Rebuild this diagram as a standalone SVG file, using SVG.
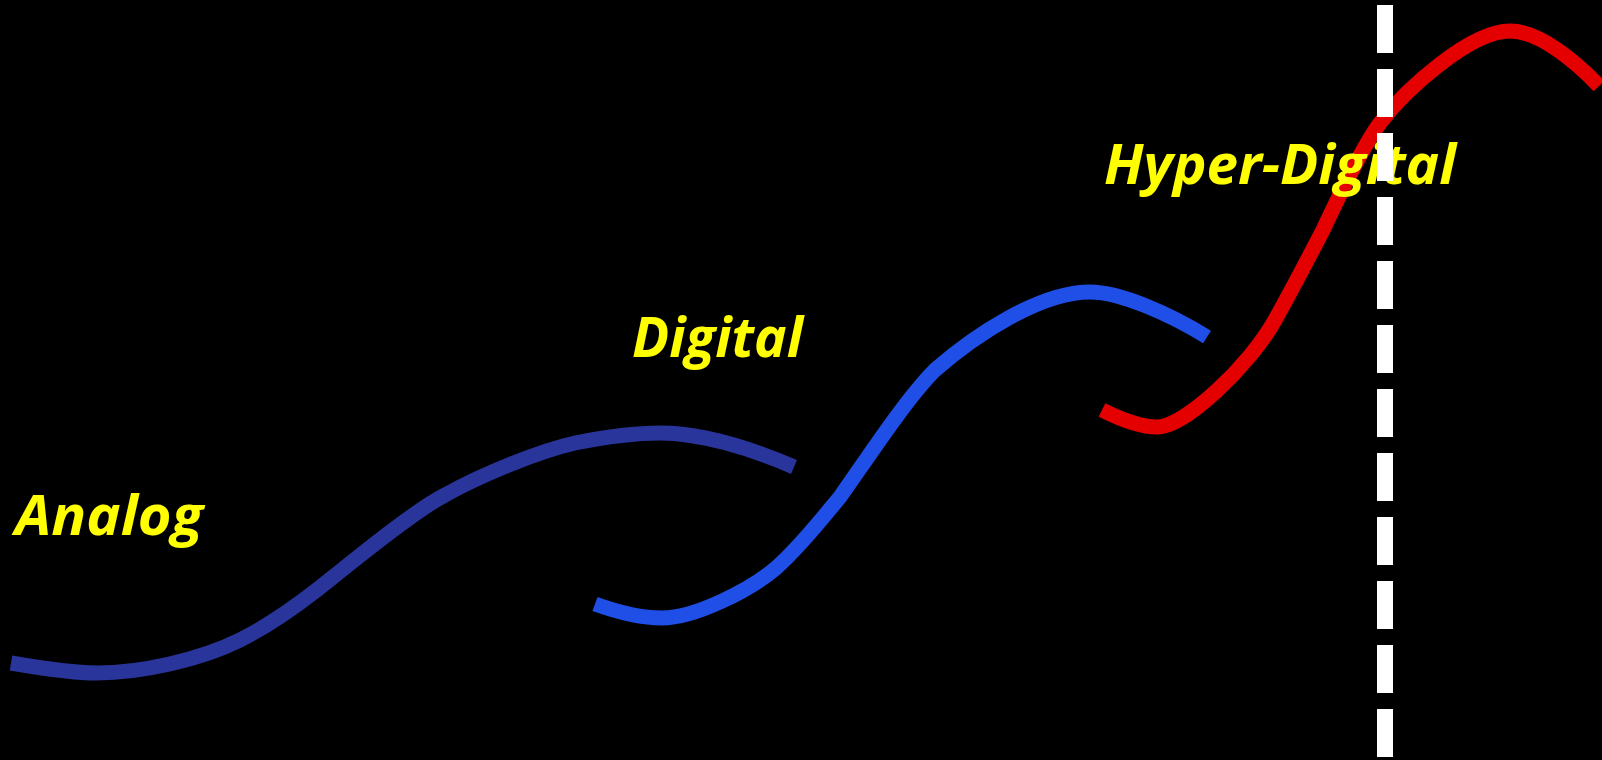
<svg xmlns="http://www.w3.org/2000/svg" width="1602" height="760" viewBox="0 0 1602 760">
<style>
.curve{fill:none;stroke-width:15;stroke-linecap:butt;stroke-linejoin:round}
.lbl{font-family:"Open Sans",Lato,"Liberation Sans",sans-serif;font-weight:bold;font-style:italic;font-size:56px;fill:#FFFF00}
</style>
<rect x="0" y="0" width="1602" height="760" fill="#000000"/>
<g id="connectors">
<path id="analog-curve" class="curve" stroke="#29359A" d="M11,663 C40,668 70,673 97,673 C140,673 200,660 240,640 C270,625 300,603 318,589 C340,572 410,513 445,495 C485,473 540,451 575,443 C605,437 635,433 660,433 C700,433 750,448 794,467"/>
<path id="digital-curve" class="curve" stroke="#1F4FE6" d="M595,604 C620,613 640,618 662,618 C695,618 750,590 776,568 C800,547 825,515 840,497 C865,462 905,400 935,370 C975,335 1040,292 1090,292 C1120,292 1170,314 1207,337"/>
<path id="hyper-curve" class="curve" stroke="#E40000" d="M1102,410 C1122,420 1140,427 1157,427 C1185,427 1250,365 1275,320 C1289,295 1310,255 1323,230 C1338,198 1362,147 1380,123 C1405,90 1470,31 1510,31 C1540,31 1577,63 1599,86"/>
</g>
<g id="analog"><text class="lbl" x="15" y="535" textLength="188" lengthAdjust="spacingAndGlyphs">Analog</text></g>
<g id="digital"><text class="lbl" x="632" y="357" textLength="171" lengthAdjust="spacingAndGlyphs">Digital</text></g>
<g id="hyper-digital"><text class="lbl" x="1104" y="184" textLength="352" lengthAdjust="spacingAndGlyphs">Hyper-Digital</text></g>
<g id="divider"><line x1="1385" y1="5" x2="1385" y2="760" stroke="#FFFFFF" stroke-width="16" stroke-dasharray="48 16"/></g>
</svg>
